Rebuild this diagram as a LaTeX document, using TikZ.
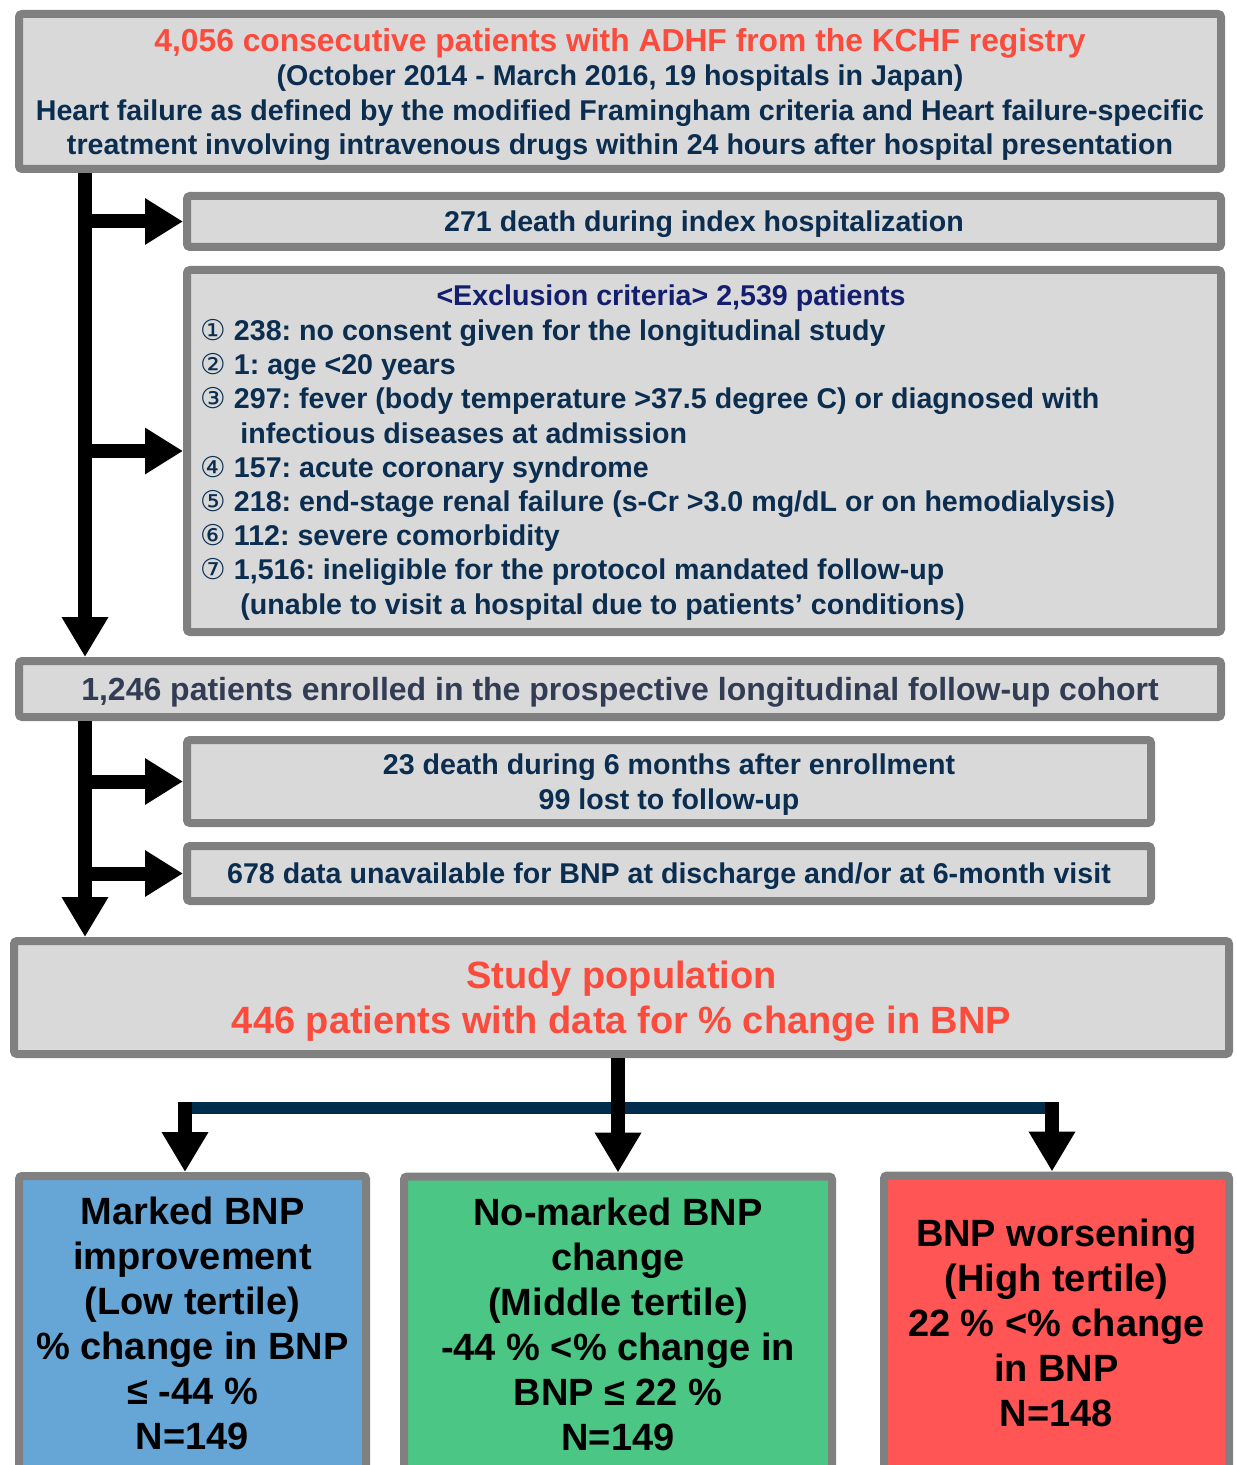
\documentclass[tikz,border=0pt]{standalone}
\usepackage{fontspec}
\setmainfont{Liberation Sans}
\newfontfamily\circfont{DejaVu Sans}
\usetikzlibrary{arrows.meta,positioning}
\definecolor{boxgray}{RGB}{128,128,128}
\definecolor{boxfill}{RGB}{217,217,217}
\definecolor{titlered}{RGB}{250,75,60}
\definecolor{textnavy}{RGB}{10,45,80}
\definecolor{headnavy}{RGB}{20,30,110}
\definecolor{cohortgray}{RGB}{50,60,85}
\definecolor{linenavy}{RGB}{0,45,75}
\definecolor{lowblue}{RGB}{102,166,214}
\definecolor{midgreen}{RGB}{76,198,133}
\definecolor{highred}{RGB}{255,85,85}
\newcommand{\cnum}[1]{{\circfont\mdseries #1}}
\frenchspacing

\begin{document}
\begin{tikzpicture}[x=0.5pt,y=-0.5pt]
  \tikzstyle{flowbox}=[draw=boxgray,line width=4pt,fill=boxfill,rounded corners=1.5pt,inner sep=0pt,text depth=0pt,align=center,text=textnavy,font=\fontsize{14.3}{17.25}\selectfont\bfseries]
  \tikzstyle{groupbox}=[flowbox,text=black,minimum height=147.5pt,font=\fontsize{19}{22.5}\selectfont\bfseries]
  \tikzstyle{listtext}=[inner sep=0pt,align=left,text=textnavy,font=\fontsize{14.3}{17.1}\selectfont\bfseries]
  \tikzstyle{arr}=[line width=7pt,-{Triangle[length=20pt,width=22pt]}]
  \tikzstyle{fork}=[line width=6pt,draw=linenavy]

  \useasboundingbox (0,0) rectangle (1236,1465);
  \clip (0,0) rectangle (1236,1465);

  \node[flowbox,minimum width=601pt,minimum height=77.5pt] (registry) at (620,91.5)
    {{\fontsize{15.9}{17.25}\selectfont\color{titlered}4,056 consecutive patients with ADHF from the KCHF registry}\\
     (October 2014 - March 2016, 19 hospitals in Japan)\\
     Heart failure as defined by the modified Framingham criteria and Heart failure-specific\\
     treatment involving intravenous drugs within 24 hours after hospital presentation};
  \node[flowbox,minimum width=517pt,minimum height=25.5pt] (death) at (704,221.5)
    {271 death during index hospitalization};
  \node[flowbox,minimum width=517pt,minimum height=181pt] (excl) at (704,451) {};
  \node[listtext,text=headnavy] (exclhead) at (671,298) {<Exclusion criteria> 2,539 patients};
  \node[listtext,anchor=north west] (excllist) at (200,319)
    {\cnum{①} 238: no consent given for the longitudinal study\\
     \cnum{②} 1: age <20 years\\
     \cnum{③} 297: fever (body temperature >37.5 degree C) or diagnosed with\\
     \hspace*{20pt}infectious diseases at admission\\
     \cnum{④} 157: acute coronary syndrome\\
     \cnum{⑤} 218: end-stage renal failure (s-Cr >3.0 mg/dL or on hemodialysis)\\
     \cnum{⑥} 112: severe comorbidity\\
     \cnum{⑦} 1,516: ineligible for the protocol mandated follow-up\\
     \hspace*{20pt}(unable to visit a hospital due to patients’ conditions)};
  \node[flowbox,minimum width=601pt,minimum height=28pt,text=cohortgray,font=\fontsize{16}{19}\selectfont\bfseries] (enrolled) at (620,689)
    {1,246 patients enrolled in the prospective longitudinal follow-up cohort};
  \node[flowbox,minimum width=482pt,minimum height=41.5pt] (lost) at (669,781.5)
    {23 death during 6 months after enrollment\\99 lost to follow-up};
  \node[flowbox,minimum width=482pt,minimum height=27.5pt] (nobnp) at (669,873.5)
    {678 data unavailable for BNP at discharge and/or at 6-month visit};
  \node[flowbox,minimum width=607.5pt,minimum height=56.5pt,text=titlered,font=\fontsize{19}{22.5}\selectfont\bfseries] (study) at (621.5,997.5)
    {Study population\\446 patients with data for \% change in BNP};

  \node[groupbox,fill=lowblue,minimum width=173.5pt] (lowbox) at (192.5,1323.5)
    {Marked BNP\\improvement\\(Low tertile)\\\% change in BNP\\≤ -44 \%\\N=149};
  \node[groupbox,fill=midgreen,minimum width=214pt] (midbox) at (618,1324)
    {No-marked BNP\\change\\(Middle tertile)\\-44 \% <\% change in\\BNP ≤ 22 \%\\N=149};
  \node[groupbox,fill=highred,minimum width=172.5pt] (highbox) at (1056.5,1323)
    {BNP worsening\\(High tertile)\\22 \% <\% change\\in BNP\\N=148};

  \coordinate (trunk) at (85,0);
  \draw[arr] (registry.south -| trunk) -- (enrolled.north -| trunk);
  \draw[arr,-{Triangle[length=19pt,width=22pt]}] (death.west -| trunk) -- (death.west);
  \draw[arr,-{Triangle[length=19pt,width=22pt]}] (excl.west -| trunk) -- (excl.west);
  \draw[arr] (enrolled.south -| trunk) -- (study.north -| trunk);
  \draw[arr,-{Triangle[length=19pt,width=22pt]}] (lost.west -| trunk) -- (lost.west);
  \draw[arr,-{Triangle[length=19pt,width=22pt]}] (nobnp.west -| trunk) -- (nobnp.west);

  \coordinate (forkl) at (185,1108);
  \coordinate (forkr) at (1052,1108);
  \draw[fork] ([xshift=-3.5pt]forkl) -- ([xshift=3.5pt]forkr);
  \draw[arr] (study.south -| midbox.north) -- (midbox.north);
  \draw[arr] ([yshift=3pt]forkl) -- (forkl |- lowbox.north);
  \draw[arr] ([yshift=3pt]forkr) -- (forkr |- highbox.north);
\end{tikzpicture}
\end{document}
